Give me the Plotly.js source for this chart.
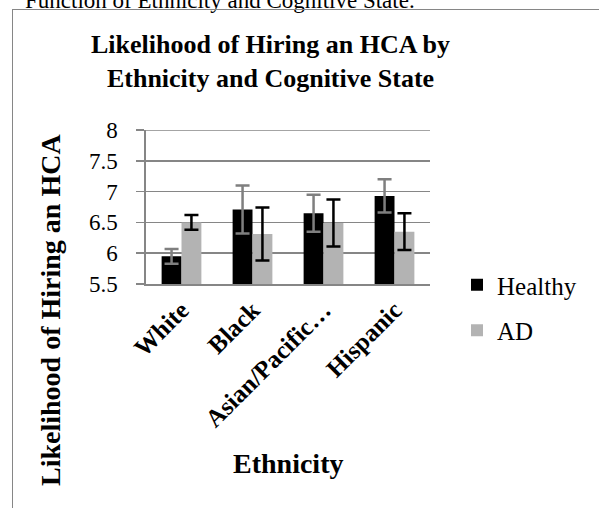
<!DOCTYPE html>
<html>
<head>
<meta charset="utf-8">
<script src="https://cdn.plot.ly/plotly-3.0.1.min.js"></script>
<style>
  html, body { margin: 0; padding: 0; background: #fff; }
  #chart { position: absolute; left: 0; top: 0; width: 599px; height: 508px; }
  #frame { position: absolute; left: 12px; top: 9px; width: 700px; height: 600px;
           border-left: 1.6px solid #868686; border-top: 1.6px solid #868686; pointer-events: none; }
</style>
</head>
<body>
<div id="chart"></div>
<div id="frame"></div>
<script>
// Data
const categories = ["White", "Black", "Asian/Pacific\u2026", "Hispanic"];
const healthyValues = [5.95, 6.71, 6.65, 6.93];
const healthyErrors = [0.12, 0.39, 0.30, 0.27];
const adValues = [6.50, 6.31, 6.49, 6.35];
const adErrors = [0.12, 0.43, 0.38, 0.30];
const yTickValues = [5.5, 6, 6.5, 7, 7.5, 8];
const yTickLabels = ["5.5", "6", "6.5", "7", "7.5", "8"];
const yMin = 5.5, yMax = 8;

const serif = "'Liberation Serif', 'DejaVu Serif', serif";

// plot area pixel geometry
const L = 146, R = 430, T = 130, B = 284;
const W = 599, H = 508;
const px = x => (x - L) / (R - L);
const py = y => (B - y) / (B - T);

const traces = [
  {
    type: "bar", name: "Healthy", x: categories, y: healthyValues,
    marker: { color: "#000000" }, legendgroup: "a",
    error_y: { type: "data", array: healthyErrors, visible: true, color: "#7f7f7f", thickness: 2.5, width: 7 }
  },
  {
    type: "bar", name: "AD", x: categories, y: adValues,
    marker: { color: "#b3b3b3" }, legendgroup: "b",
    error_y: { type: "data", array: adErrors, visible: true, color: "#000000", thickness: 2.5, width: 7 }
  }
];

const layout = {
  width: W, height: H,
  margin: { l: L, r: W - R, t: T, b: H - B, pad: 0 },
  paper_bgcolor: "#ffffff", plot_bgcolor: "#ffffff",
  font: { family: serif, color: "#000000", size: 22 },
  barmode: "group", bargap: 0.44, bargroupgap: 0,
  showlegend: true,
  legend: {
    x: px(457), y: py(262), xanchor: "left", yanchor: "top",
    font: { family: serif, size: 25, color: "#000" },
    tracegroupgap: 10, traceorder: "grouped",
    bgcolor: "rgba(0,0,0,0)"
  },
  xaxis: {
    type: "category",
    tickangle: -45,
    tickfont: { family: serif, size: 25, weight: "bold", color: "#000" },
    showline: true, linecolor: "#868686", linewidth: 1.6,
    ticks: "", showgrid: false
  },
  yaxis: {
    range: [yMin, yMax],
    tickvals: yTickValues, ticktext: yTickLabels,
    tickfont: { family: serif, size: 23, color: "#000" },
    showline: true, linecolor: "#868686", linewidth: 1.6,
    ticks: "outside", ticklen: 8, tickcolor: "#868686", tickwidth: 1.6,
    ticklabelstandoff: 14,
    showgrid: true, gridcolor: "#868686", gridwidth: 1.6,
    zeroline: false
  },
  shapes: [
    { type: "line", xref: "paper", yref: "y", x0: 0, x1: 1, y0: yMax, y1: yMax,
      line: { color: "#868686", width: 1.6 }, layer: "below" }
  ],
  annotations: [
    {
      text: "Likelihood of Hiring an HCA by<br>Ethnicity and Cognitive State",
      xref: "paper", yref: "paper", x: px(270), y: py(61),
      xanchor: "center", yanchor: "middle", showarrow: false,
      font: { family: serif, size: 26, weight: "bold", color: "#000" }
    },
    {
      text: "Likelihood of Hiring an HCA",
      xref: "paper", yref: "paper", x: px(50), y: py(310),
      xanchor: "center", yanchor: "middle", textangle: -90, showarrow: false,
      font: { family: serif, size: 28, weight: "bold", color: "#000" }
    },
    {
      text: "Ethnicity",
      xref: "paper", yref: "paper", x: px(288), y: py(463),
      xanchor: "center", yanchor: "middle", showarrow: false,
      font: { family: serif, size: 28, weight: "bold", color: "#000" }
    },
    {
      text: "Function of Ethnicity and Cognitive State.",
      xref: "paper", yref: "paper", x: px(220), y: py(0),
      xanchor: "center", yanchor: "middle", showarrow: false,
      font: { family: serif, size: 23, color: "#000" }
    }
  ]
};

Plotly.newPlot("chart", traces, layout, { staticPlot: true, displayModeBar: false });
</script>
</body>
</html>
